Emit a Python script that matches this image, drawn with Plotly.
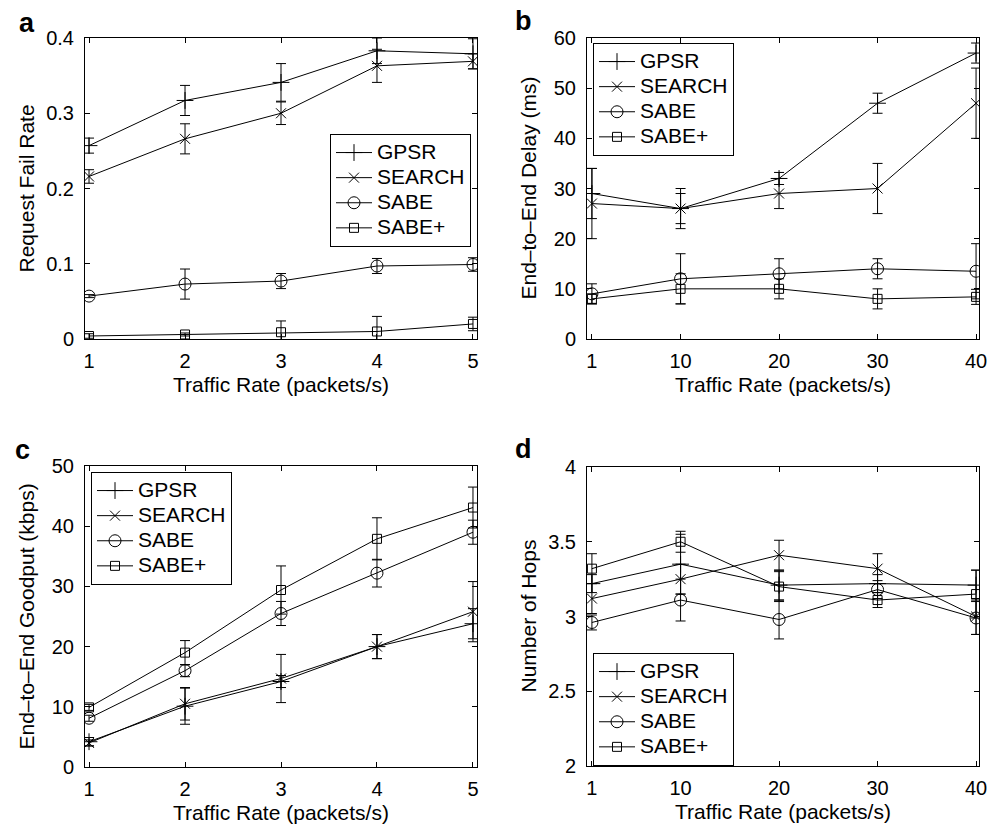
import plotly.graph_objects as go

# ---------------- data ----------------
series_names = ["GPSR", "SEARCH", "SABE", "SABE+"]

x_ab = [1, 2, 3, 4, 5]          # panels a, c
x_bd = [1, 10, 20, 30, 40]      # panels b, d

# a: Request Fail Rate
gpsr_a = [0.257, 0.317, 0.341, 0.383, 0.379]
gpsr_a_err = [0.010, 0.020, 0.025, 0.017, 0.020]
search_a = [0.216, 0.266, 0.300, 0.363, 0.369]
search_a_err = [0.009, 0.020, 0.015, 0.022, 0.010]
sabe_a = [0.057, 0.073, 0.077, 0.097, 0.099]
sabe_a_err = [0.002, 0.020, 0.010, 0.010, 0.009]
sabep_a = [0.004, 0.006, 0.009, 0.010, 0.020]
sabep_a_err = [0.003, 0.002, 0.015, 0.020, 0.009]

# b: End-to-End Delay (ms)
gpsr_b = [29, 26, 32, 47, 57]
gpsr_b_err = [5, 4, 1.2, 2, 2]
search_b = [27, 26, 29, 30, 47]
search_b_err = [7, 3, 3, 5, 7]
sabe_b = [9, 12, 13, 14, 13.5]
sabe_b_err = [2, 5, 3, 2, 5.5]
sabep_b = [8, 10, 10, 8, 8.4]
sabep_b_err = [1, 3, 2, 2, 1.5]

# c: End-to-End Goodput (kbps)
gpsr_c = [4.2, 10.1, 14.2, 20.0, 23.8]
gpsr_c_err = [0.7, 3.0, 1.0, 2.0, 2.5]
search_c = [4.0, 10.5, 14.7, 20.0, 25.8]
search_c_err = [0.5, 2.7, 4.0, 2.0, 5.0]
sabe_c = [8.1, 16.0, 25.5, 32.2, 39.0]
sabe_c_err = [0.5, 1.0, 2.0, 2.3, 2.0]
sabep_c = [9.9, 19.0, 29.4, 37.9, 43.1]
sabep_c_err = [0.5, 2.0, 4.0, 3.5, 3.4]

# d: Number of Hops
gpsr_d = [3.22, 3.35, 3.21, 3.22, 3.21]
gpsr_d_err = [0.06, 0.20, 0.10, 0.06, 0.10]
search_d = [3.12, 3.25, 3.41, 3.32, 3.00]
search_d_err = [0.10, 0.10, 0.10, 0.10, 0.12]
sabe_d = [2.96, 3.11, 2.98, 3.18, 2.99]
sabe_d_err = [0.05, 0.14, 0.13, 0.06, 0.11]
sabep_d = [3.32, 3.50, 3.20, 3.11, 3.15]
sabep_d_err = [0.10, 0.07, 0.10, 0.05, 0.16]

x_title = "Traffic Rate (packets/s)"
y_titles = ["Request Fail Rate", "End–to–End Delay (ms)",
            "End–to–End Goodput (kbps)", "Number of Hops"]
panel_labels = ["a", "b", "c", "d"]

# ---------------- style ----------------
FONT = "Liberation Sans, Arial, Helvetica, sans-serif"
W, H = 1000, 826
symbols = ["cross-thin-open", "x-thin-open", "circle-open", "square-open"]
msizes = [12, 10, 12, 9]

# pixel geometry of the four axes boxes (left, right, top, bottom)
boxes = [(85, 477, 38, 339), (587, 979, 38, 339),
         (85, 477, 466, 767), (587, 979, 467, 766)]
legend_pos = [(330, 134), (593, 43), (91, 472), (593, 653)]
letter_pos = [(27, 23), (523, 21), (22, 450), (523, 449)]

panels = [
    (x_ab, [(gpsr_a, gpsr_a_err), (search_a, search_a_err), (sabe_a, sabe_a_err), (sabep_a, sabep_a_err)],
     [0.958, 5.042], [0, 0.4], [1, 2, 3, 4, 5], [0, 0.1, 0.2, 0.3, 0.4]),
    (x_bd, [(gpsr_b, gpsr_b_err), (search_b, search_b_err), (sabe_b, sabe_b_err), (sabep_b, sabep_b_err)],
     [0.5, 40.3], [0, 60], [1, 10, 20, 30, 40], [0, 10, 20, 30, 40, 50, 60]),
    (x_ab, [(gpsr_c, gpsr_c_err), (search_c, search_c_err), (sabe_c, sabe_c_err), (sabep_c, sabep_c_err)],
     [0.958, 5.042], [0, 50], [1, 2, 3, 4, 5], [0, 10, 20, 30, 40, 50]),
    (x_bd, [(gpsr_d, gpsr_d_err), (search_d, search_d_err), (sabe_d, sabe_d_err), (sabep_d, sabep_d_err)],
     [0.5, 40.3], [2, 4], [1, 10, 20, 30, 40], [2, 2.5, 3, 3.5, 4]),
]

fig = go.Figure()
layout = dict(
    template="none",
    width=W, height=H, margin=dict(l=0, r=0, t=0, b=0, autoexpand=False),
    paper_bgcolor="white", plot_bgcolor="white",
    font=dict(family=FONT, size=20, color="black"),
    annotations=[],
)

for i, (xs, series, xr, yr, xt, yt) in enumerate(panels):
    n = i + 1
    xa = "x" if n == 1 else f"x{n}"
    ya = "y" if n == 1 else f"y{n}"
    leg = "legend" if n == 1 else f"legend{n}"
    for j, (vals, errs) in enumerate(series):
        fig.add_trace(go.Scatter(
            x=xs, y=vals,
            name=f'<span style="font-size:21px">{series_names[j]}</span>',
            mode="lines+markers",
            xaxis=xa, yaxis=ya, legend=leg,
            line=dict(color="black", width=1),
            marker=dict(symbol=symbols[j], size=msizes[j], color="black",
                        line=dict(color="black", width=1)),
            error_y=dict(type="data", array=errs, visible=True,
                         color="black", thickness=1, width=5),
        ))
    l, r, t, b = boxes[i]
    axkey_x = "xaxis" if n == 1 else f"xaxis{n}"
    axkey_y = "yaxis" if n == 1 else f"yaxis{n}"
    common = dict(showline=True, linecolor="black", linewidth=1, mirror="ticks",
                  ticks="inside", ticklen=5, tickcolor="black", showgrid=False,
                  zeroline=False, automargin=False,
                  tickfont=dict(family=FONT, size=20, color="black"))
    layout[axkey_x] = dict(domain=[l / W, r / W], range=xr, tickmode="array",
                           tickvals=xt, ticktext=[str(v) for v in xt],
                           anchor=ya, ticklabelstandoff=4, **common)
    layout[axkey_y] = dict(domain=[1 - b / H, 1 - t / H], range=yr, tickmode="array",
                           tickvals=yt, ticktext=[f"{v:g}" for v in yt],
                           anchor=xa, ticklabelstandoff=6, **common)
    lx, ly = legend_pos[i]
    layout[leg] = dict(x=lx / W, y=1 - ly / H, xanchor="left", yanchor="top",
                       bordercolor="black", borderwidth=1, bgcolor="white",
                       font=dict(family=FONT, size=17, color="black"),
                       itemwidth=36, tracegroupgap=0)
    # axis titles
    layout["annotations"].append(dict(
        text=x_title, x=(l + r) / 2 / W, y=1 - (b + 45) / H, xref="paper", yref="paper",
        xanchor="center", yanchor="middle", showarrow=False,
        font=dict(family=FONT, size=21, color="black")))
    layout["annotations"].append(dict(
        text=y_titles[i], x=(l - 59) / W, y=1 - (t + b) / 2 / H, xref="paper", yref="paper",
        xanchor="center", yanchor="middle", showarrow=False, textangle=-90,
        font=dict(family=FONT, size=21, color="black")))
    # panel letter
    px, py = letter_pos[i]
    layout["annotations"].append(dict(
        text=f"<b>{panel_labels[i]}</b>", x=px / W, y=1 - py / H,
        xref="paper", yref="paper", xanchor="center", yanchor="middle", showarrow=False,
        font=dict(family=FONT, size=27, color="black")))

fig.update_layout(**layout)
fig.write_html(
    "out.html",
    config={"displayModeBar": False},
    post_script="document.body.style.margin='0';document.body.style.padding='0';"
                "document.documentElement.style.overflow='hidden';",
)
